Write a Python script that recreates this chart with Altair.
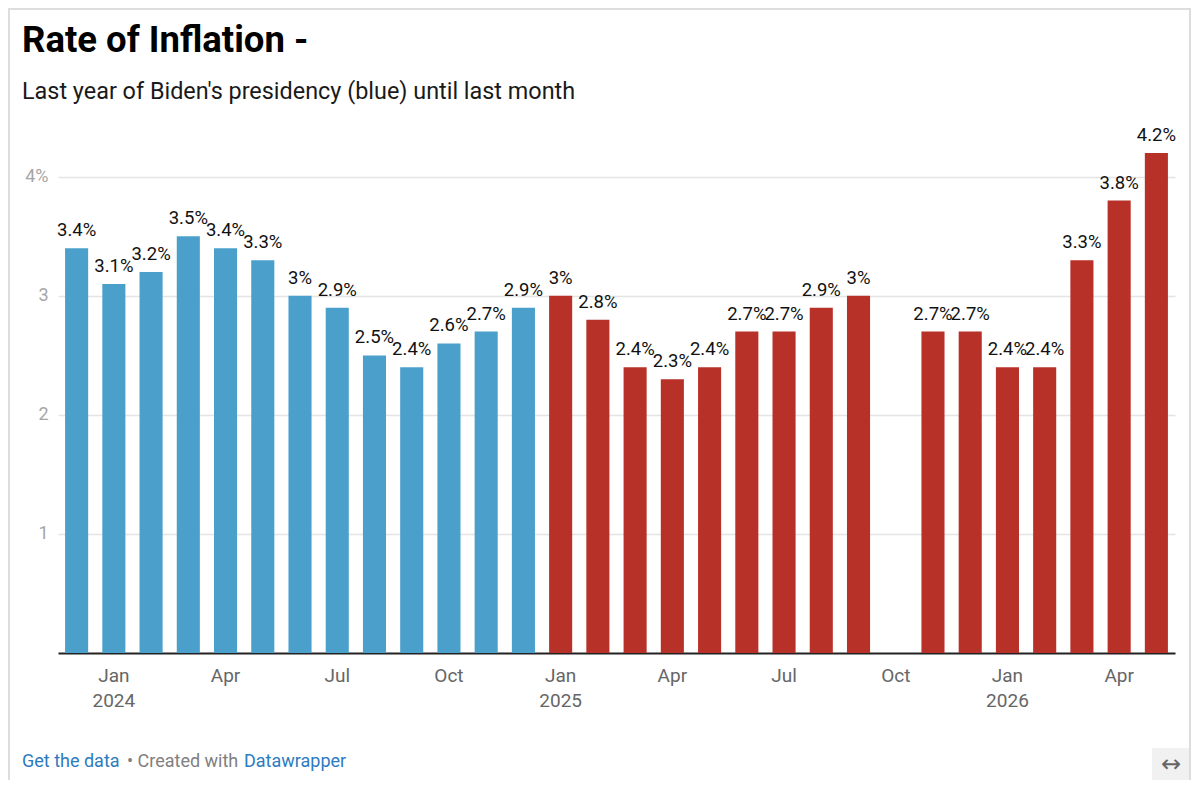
import altair as alt
import pandas as pd

# ---- data ----
months = ["Dec 2023", "Jan 2024", "Feb 2024", "Mar 2024", "Apr 2024", "May 2024", "Jun 2024",
          "Jul 2024", "Aug 2024", "Sep 2024", "Oct 2024", "Nov 2024", "Dec 2024",
          "Jan 2025", "Feb 2025", "Mar 2025", "Apr 2025", "May 2025", "Jun 2025",
          "Jul 2025", "Aug 2025", "Sep 2025", "Oct 2025", "Nov 2025", "Dec 2025",
          "Jan 2026", "Feb 2026", "Mar 2026", "Apr 2026", "May 2026"]
rates = [3.4, 3.1, 3.2, 3.5, 3.4, 3.3, 3.0, 2.9, 2.5, 2.4, 2.6, 2.7, 2.9,
         3.0, 2.8, 2.4, 2.3, 2.4, 2.7, 2.7, 2.9, 3.0, None, 2.7, 2.7,
         2.4, 2.4, 3.3, 3.8, 4.2]
periods = ["Biden"] * 13 + ["Trump"] * 17
period_names = ["Biden", "Trump"]
period_colors = ["#4ba0cb", "#b83128"]
y_ticks = [1, 2, 3, 4]

TITLE = ["Rate of Inflation -"]
SUBTITLE = ["Last year of Biden's presidency (blue) until last month"]
FOOT_LINK1 = ["Get the data"]
FOOT_MID = ["\u2022 Created with"]
FOOT_LINK2 = ["Datawrapper"]
ARROW = ["\u2194"]

df = pd.DataFrame({"month": months, "rate": rates, "period": periods})

FONT = "Roboto"
W, H = 1117, 500

x_enc = alt.X(
    "month:O", sort=months, title=None,
    scale=alt.Scale(paddingInner=0.38, paddingOuter=0.19),
    axis=alt.Axis(
        labelAngle=0, ticks=False, domainColor="#222222", domainWidth=2,
        labelColor="#666666", labelFontSize=19, labelFont=FONT, labelPadding=13,
        labelLineHeight=25, labelOverlap=False,
        labelExpr="indexof(datum.value, 'Jan') == 0 ? split(datum.value, ' ') : "
                  "(test(/^(Apr|Jul|Oct)/, datum.value) ? slice(datum.value, 0, 3) : '')",
    ),
)
y_enc = alt.Y(
    "rate:Q", title=None,
    scale=alt.Scale(domain=[0, 4.2], nice=False),
    axis=alt.Axis(
        values=y_ticks, ticks=False, domain=False, grid=True, gridColor="#e4e4e4",
        gridWidth=1.5, labelColor="#a6a6a6", labelFontSize=18, labelFont=FONT,
        labelPadding=10,
        labelExpr="datum.value == 4 ? '4%' : format(datum.value, 'd')",
    ),
)

base = alt.Chart(df)

bars = base.mark_bar().encode(
    x=x_enc,
    y=y_enc,
    color=alt.Color("period:N", scale=alt.Scale(domain=period_names, range=period_colors), legend=None),
)

labels = base.transform_filter("isValid(datum.rate)").transform_calculate(
    lab="datum.rate + '%'"
).mark_text(
    font=FONT, fontSize=18.5, color="#111111", baseline="alphabetic", dy=-12
).encode(x=alt.X("month:O", sort=months), y="rate:Q", text="lab:N")


def txt(values, x, y, size, color, weight="normal", align="left", baseline="alphabetic", font=FONT):
    return alt.Chart(pd.DataFrame({"t": values})).mark_text(
        font=font, fontSize=size, color=color, fontWeight=weight, align=align, baseline=baseline
    ).encode(x=alt.value(x), y=alt.value(y), text="t:N")


title = txt(TITLE, -36, -101, 36.5, "#000000", weight="bold")
subtitle = txt(SUBTITLE, -36, -54, 23.4, "#1a1a1a")
foot1 = txt(FOOT_LINK1, -36, 614, 18, "#2d7bbf")
foot2 = txt(FOOT_MID, 69, 614, 18, "#808080")
foot3 = txt(FOOT_LINK2, 186, 614, 18, "#2d7bbf")

frame = alt.Chart(pd.DataFrame({"a": [0]})).mark_rect(
    fill="transparent", stroke="#dddddd", strokeWidth=2
).encode(x=alt.value(-49), x2=alt.value(1132), y=alt.value(-144), y2=alt.value(700))

arrow_box = alt.Chart(pd.DataFrame({"a": [0]})).mark_rect(color="#f1f1f1").encode(
    x=alt.value(1094), x2=alt.value(1131), y=alt.value(595), y2=alt.value(640)
)
arrow = txt(ARROW, 1113, 612, 24, "#666666", align="center", baseline="middle", font="DejaVu Sans")

chart = alt.layer(
    frame, bars, labels, title, subtitle, foot1, foot2, foot3, arrow_box, arrow
).properties(
    width=W, height=H,
    background="white",
    autosize=alt.AutoSizeParams(type="none"),
    padding={"left": 50, "top": 145, "right": 17, "bottom": 127},
).configure_view(stroke=None)

chart.save("out.html", embed_options={"renderer": "svg", "actions": False})
